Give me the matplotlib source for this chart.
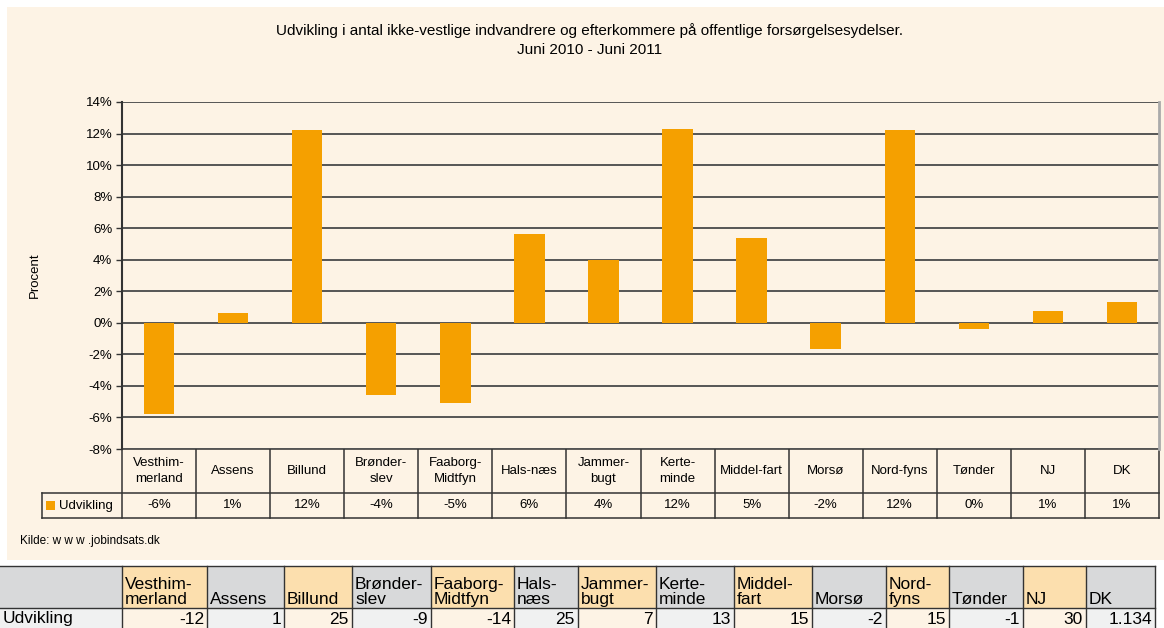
import matplotlib.pyplot as plt
from matplotlib.patches import Rectangle

# chart data (percent change)
regions = ["Vesthim-\nmerland", "Assens", "Billund", "Brønder-\nslev", "Faaborg-\nMidtfyn",
           "Hals-næs", "Jammer-\nbugt", "Kerte-\nminde", "Middel-fart", "Morsø",
           "Nord-fyns", "Tønder", "NJ", "DK"]
pct = [-5.75, 0.63, 12.25, -4.55, -5.1, 5.65, 4.0, 12.3, 5.35, -1.65, 12.2, -0.38, 0.76, 1.33]
pct_labels = ["-6%", "1%", "12%", "-4%", "-5%", "6%", "4%", "12%", "5%", "-2%", "12%", "0%", "1%", "1%"]
yticks = [-8, -6, -4, -2, 0, 2, 4, 6, 8, 10, 12, 14]

# spreadsheet below the chart
table_heads = ["Vesthim-\nmerland", "Assens", "Billund", "Brønder-\nslev", "Faaborg-\nMidtfyn",
               "Hals-\nnæs", "Jammer-\nbugt", "Kerte-\nminde", "Middel-\nfart", "Morsø",
               "Nord-\nfyns", "Tønder", "NJ", "DK"]
counts = ["-12", "1", "25", "-9", "-14", "25", "7", "13", "15", "-2", "15", "-1", "30", "1.134"]
col_edges = [0, 122, 207, 284, 352, 431, 514, 578, 656, 734, 812, 886, 949, 1023, 1086, 1155]

W, H = 1164, 628
cream = "#fdf3e5"
orange = "#f5a000"
grid_col = "#555555"
plt.rcParams['font.family'] = ['Liberation Sans', 'DejaVu Sans']

fig = plt.figure(figsize=(W / 100, H / 100), dpi=100)
fig.patch.set_facecolor("white")


def px_axes(x0, y0, x1, y1, **kw):
    return fig.add_axes([x0 / W, 1 - y1 / H, (x1 - x0) / W, (y1 - y0) / H], **kw)


# background axes in pixel coordinates
bg = px_axes(0, 0, W, H, zorder=0)
bg.set_xlim(0, W)
bg.set_ylim(H, 0)
bg.axis("off")
bg.add_patch(Rectangle((7, 7), W - 7, 553, facecolor=cream, edgecolor="none"))

bg.text(590, 31, "Udvikling i antal ikke-vestlige indvandrere og efterkommere på offentlige forsørgelsesydelser.",
        ha="center", va="center", fontsize=11)
bg.text(590, 50, "Juni 2010 - Juni 2011", ha="center", va="center", fontsize=11)

# bar chart
ax = px_axes(122, 102, 1159, 449, zorder=2)
ax.set_facecolor("none")
x = list(range(len(pct)))
ax.bar(x, pct, width=0.41, color=orange, zorder=3)
ax.set_xlim(-0.5, len(pct) - 0.5)
ax.set_ylim(-8, 14)
ax.set_yticks(yticks)
ax.set_yticklabels([f"{t}%" for t in yticks], fontsize=9.5)
ax.set_xticks([])
for t in yticks:
    ax.axhline(t, color=grid_col, lw=1.4, zorder=1)
for s in ["top", "bottom"]:
    ax.spines[s].set_visible(False)
ax.spines["left"].set_color("#333333")
ax.spines["left"].set_linewidth(1.5)
ax.spines["right"].set_color("#aaaaaa")
ax.spines["right"].set_linewidth(2)
ax.tick_params(axis="y", length=4, width=1, color="#333333", pad=3)
ax.set_ylabel("Procent", fontsize=9.5, labelpad=32)

# data table under the chart, aligned to the bar axes
fig.canvas.draw()
edges_disp = ax.transData.transform([(i - 0.5, 0) for i in range(len(pct) + 1)])
edges = [e[0] for e in edges_disp]
r0, r1, r2 = 449, 493, 518
line_kw = dict(color="#333333", lw=1.1, zorder=3)
bg.plot([edges[0], edges[-1]], [r0, r0], **line_kw)
bg.plot([42, edges[-1]], [r1, r1], **line_kw)
bg.plot([42, edges[-1]], [r2, r2], **line_kw)
bg.plot([42, 42], [r1, r2], **line_kw)
for e in edges:
    bg.plot([e, e], [r0, r2], **line_kw)
for i in range(len(pct)):
    cx = (edges[i] + edges[i + 1]) / 2
    bg.text(cx, (r0 + r1) / 2, regions[i], ha="center", va="center", fontsize=9.5, linespacing=1.5)
    bg.text(cx, (r1 + r2) / 2, pct_labels[i], ha="center", va="center", fontsize=9.5)
bg.add_patch(Rectangle((46, 501), 9, 9, facecolor=orange, edgecolor="none"))
bg.text(59, (r1 + r2) / 2, "Udvikling", ha="left", va="center", fontsize=9.5)

bg.text(20, 541, "Kilde: w w w .jobindsats.dk", ha="left", va="center", fontsize=8.5)

# spreadsheet rows
t0, t1, t2 = 566, 608, 628
bg.add_patch(Rectangle((col_edges[0], t0), col_edges[1] - col_edges[0], t1 - t0,
                       facecolor="#d8d9da", edgecolor="none"))
bg.add_patch(Rectangle((col_edges[0], t1), col_edges[1] - col_edges[0], t2 - t1,
                       facecolor="#f0f1f1", edgecolor="none"))
for i in range(len(counts)):
    xa, xb = col_edges[i + 1], col_edges[i + 2]
    head_c = "#fcdfae" if i % 2 == 0 else "#d8d9da"
    body_c = "#fdf3e5" if i % 2 == 0 else "#f0f1f1"
    bg.add_patch(Rectangle((xa, t0), xb - xa, t1 - t0, facecolor=head_c, edgecolor="none"))
    bg.add_patch(Rectangle((xa, t1), xb - xa, t2 - t1, facecolor=body_c, edgecolor="none"))
    bg.text(xa + 3, t1 - 1, table_heads[i], ha="left", va="bottom", fontsize=12.5, linespacing=1.0)
    bg.text(xb - 3, (t1 + t2) / 2 + 1, counts[i], ha="right", va="center", fontsize=12.5)
bg.text(3, (t1 + t2) / 2 + 1, "Udvikling", ha="left", va="center", fontsize=12.5)

tk = dict(color="#333333", lw=1.0, zorder=3)
bg.plot([col_edges[0], col_edges[-1]], [t0, t0], **tk)
bg.plot([col_edges[0], col_edges[-1]], [t1, t1], **tk)
for e in col_edges[1:]:
    bg.plot([e, e], [t0, t2], **tk)

fig.savefig("out.png", dpi=100, facecolor=fig.get_facecolor())
